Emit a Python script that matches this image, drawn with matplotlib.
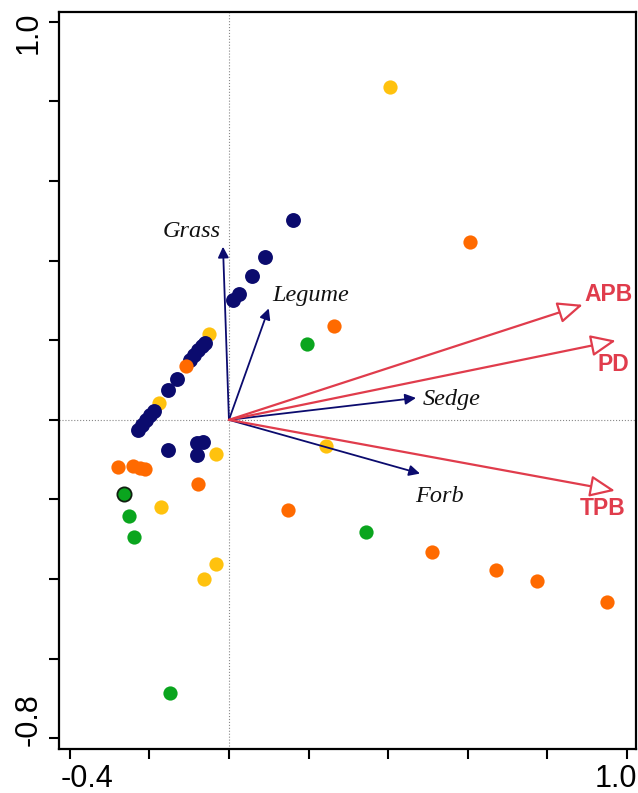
import matplotlib
matplotlib.use("Agg")
import matplotlib.pyplot as plt
import matplotlib.transforms as mtransforms
import numpy as np

# site scores by group
navy_x = [0.161, 0.090, 0.058, 0.025, 0.010, -0.229, -0.219, -0.209, -0.198, -0.188,
          -0.153, -0.131, -0.098, -0.088, -0.078, -0.068, -0.060, -0.153, -0.080, -0.065, -0.080]
navy_y = [0.503, 0.410, 0.362, 0.317, 0.302, -0.025, -0.013, 0.000, 0.013, 0.023,
          0.075, 0.103, 0.151, 0.163, 0.176, 0.186, 0.193, -0.075, -0.058, -0.055, -0.088]

yellow_x = [0.405, -0.050, -0.176, -0.033, 0.244, -0.171, -0.033, -0.063]
yellow_y = [0.837, 0.216, 0.043, -0.085, -0.065, -0.219, -0.362, -0.400]

orange_x = [0.606, 0.264, -0.108, -0.279, -0.241, -0.224, -0.211, -0.078, 0.148, 0.510, 0.671, 0.774, 0.950]
orange_y = [0.447, 0.236, 0.136, -0.118, -0.116, -0.121, -0.123, -0.161, -0.226, -0.332, -0.377, -0.405, -0.457]

green_x = [0.196, -0.264, -0.251, -0.239, 0.344, -0.148]
green_y = [0.191, -0.186, -0.241, -0.294, -0.281, -0.686]

# species vectors
spp_names = ["Grass", "Legume", "Sedge", "Forb"]
spp_x = [-0.015, 0.100, 0.470, 0.480]
spp_y = [0.435, 0.280, 0.055, -0.135]
spp_lab_x = [-0.093, 0.206, 0.560, 0.530]
spp_lab_y = [0.472, 0.312, 0.050, -0.193]

# environmental vectors
env_names = ["APB", "PD", "TPB"]
env_x = [0.889, 0.972, 0.970]
env_y = [0.289, 0.199, -0.178]
env_lab_x = [0.955, 0.967, 0.940]
env_lab_y = [0.314, 0.138, -0.224]

NAVY = "#0b0b6e"
ORANGE = "#ff6a00"
YELLOW = "#ffc20e"
GREEN = "#0aa51e"
RED = "#e03c4c"

fig = plt.figure(figsize=(6.38, 7.93), dpi=100)
ax = fig.add_axes([0.0925, 0.0555, 0.9045, 0.9295])

ax.axhline(0, color="#888888", lw=0.8, ls=":", zorder=1)
ax.axvline(0, color="#888888", lw=0.8, ls=":", zorder=1)

ax.scatter(yellow_x, yellow_y, s=105, color=YELLOW, lw=0, zorder=3)
ax.scatter(navy_x, navy_y, s=115, color=NAVY, lw=0, zorder=3)
ax.scatter(orange_x, orange_y, s=105, color=ORANGE, lw=0, zorder=4)
ax.scatter(green_x, green_y, s=105, color=GREEN, lw=0, zorder=4)
# one green site drawn with a dark outline
ax.scatter(green_x[1], green_y[1], s=105, color=GREEN, edgecolor="#102010", lw=1.3, zorder=5)

for name, x, y, lx, ly in zip(spp_names, spp_x, spp_y, spp_lab_x, spp_lab_y):
    ax.annotate("", xy=(x, y), xytext=(0, 0),
                arrowprops=dict(arrowstyle="-|>", color=NAVY, lw=1.3,
                                mutation_scale=16, shrinkA=0, shrinkB=0),
                zorder=6)
    ax.text(lx, ly, name, family="Liberation Serif", style="italic", fontsize=17.5,
            ha="center", va="center", color="#111111", zorder=7)

for name, x, y, lx, ly in zip(env_names, env_x, env_y, env_lab_x, env_lab_y):
    ax.annotate("", xy=(x, y), xytext=(0, 0),
                arrowprops=dict(arrowstyle="-|>,head_length=0.7,head_width=0.3",
                                ec=RED, fc="white", lw=1.6,
                                mutation_scale=22, shrinkA=0, shrinkB=0),
                zorder=6)
    ax.text(lx, ly, name, family="Liberation Sans", weight="bold", fontsize=16.5,
            ha="center", va="center", color=RED, zorder=7)

ax.set_xlim(-0.427, 1.023)
ax.set_ylim(-0.827, 1.025)

xt = np.round(np.arange(-0.4, 1.01, 0.2), 1)
yt = np.round(np.arange(-0.8, 1.01, 0.2), 1)
ax.set_xticks(xt)
ax.set_yticks(yt)
ax.set_xticklabels(["-0.4" if v == -0.4 else ("1.0" if v == 1.0 else "") for v in xt])
ax.set_yticklabels(["-0.8" if v == -0.8 else ("1.0" if v == 1.0 else "") for v in yt],
                   rotation=90, va="center")
ax.tick_params(direction="out", length=7, width=1.5, labelsize=22, pad=4)
for lab in ax.get_xticklabels() + ax.get_yticklabels():
    lab.set_family("Liberation Sans")

# end labels sit a little inside the axis range
def nudge(lab, dx, dy):
    lab.set_transform(lab.get_transform() +
                      mtransforms.ScaledTranslation(dx / 100, dy / 100, fig.dpi_scale_trans))

xl = ax.get_xticklabels()
nudge(xl[0], 17, 0)
nudge(xl[-1], -11, 0)
yl = ax.get_yticklabels()
nudge(yl[0], 0, 19)
nudge(yl[-1], 0, -11)

for sp in ax.spines.values():
    sp.set_linewidth(1.6)

fig.savefig("out.png", dpi=100)
